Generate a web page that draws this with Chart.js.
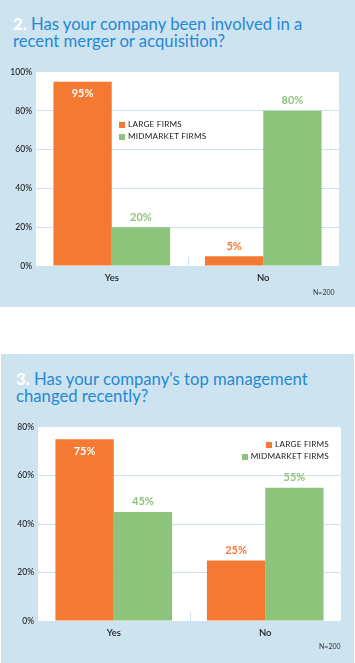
<!DOCTYPE html>
<html>
<head>
<meta charset="utf-8">
<script src="https://cdn.jsdelivr.net/npm/chart.js@4/dist/chart.umd.min.js"></script>
<style>
  html, body { margin: 0; padding: 0; background: #ffffff; }
  body { width: 355px; height: 663px; position: relative; overflow: hidden; font-family: Lato, "Open Sans", sans-serif; }
  .panel { position: absolute; background: #cee3f0; }
  .title { position: absolute; font-size: 16.7px; line-height: 17px; color: #2489d3; white-space: nowrap; }
  .title b { color: #ffffff; font-weight: 900; }
  canvas { position: absolute; }
  .legend { position: absolute; font-size: 8.2px; color: #222; letter-spacing: 0.2px; line-height: 12px; }
  .legend div { white-space: nowrap; }
  .sw { display: inline-block; width: 6px; height: 6px; margin-right: 3px; vertical-align: -0.5px; }
  .n { position: absolute; font-size: 7px; color: #333; }
</style>
</head>
<body>
<div class="panel" style="left:0;top:0;width:355px;height:307px;"></div>
<div class="panel" style="left:1px;top:354px;width:353px;height:309px;"></div>
<div class="title" style="left:13px;top:16px;"><b>2.</b> Has your company been involved in a<br>recent merger or acquisition?</div>
<div class="title" style="left:16px;top:371px;"><b>3.</b> Has your company's top management<br>changed recently?</div>
<canvas id="c1" width="355" height="240" style="left:0;top:60px;"></canvas>
<canvas id="c2" width="355" height="240" style="left:0;top:410px;"></canvas>
<div class="legend" id="lg1" style="left:119px;top:118px;"></div>
<div class="legend" id="lg2" style="right:26px;top:438px;text-align:right;"></div>
<div class="n" style="left:313px;top:288px;">N=200</div>
<div class="n" style="left:319px;top:642px;">N=200</div>
<script>
const categories = ['Yes', 'No'];
const seriesNames = ['LARGE FIRMS', 'MIDMARKET FIRMS'];
const q2Large = [95, 5];
const q2Mid = [20, 80];
const q3Large = [75, 25];
const q3Mid = [45, 55];
const q2Max = 100;
const q3Max = 80;
const tickStep = 20;

const ORANGE = '#f47a33';
const GREEN = '#8dc47b';
const GRID = '#cee3f0';

const areaBg = {
  id: 'areaBg',
  beforeDraw(chart) {
    const a = chart.chartArea, ctx = chart.ctx;
    ctx.save();
    ctx.fillStyle = '#ffffff';
    ctx.fillRect(a.left, a.top, a.right - a.left, a.bottom - a.top);
    ctx.restore();
  },
  afterDatasetsDraw(chart) {
    const ctx = chart.ctx, a = chart.chartArea, xs = chart.scales.x;
    const mid = (xs.getPixelForValue(0) + xs.getPixelForValue(1)) / 2;
    ctx.save();
    ctx.strokeStyle = GRID;
    ctx.lineWidth = 1;
    ctx.beginPath();
    ctx.moveTo(Math.round(mid) + 0.5, a.bottom);
    ctx.lineTo(Math.round(mid) + 0.5, a.bottom - 9);
    ctx.stroke();
    ctx.font = 'bold 11px Lato, "Open Sans", sans-serif';
    ctx.textAlign = 'center';
    ctx.textBaseline = 'middle';
    chart.data.datasets.forEach((ds, di) => {
      const meta = chart.getDatasetMeta(di);
      meta.data.forEach((bar, i) => {
        const v = ds.data[i];
        const txt = v + '%';
        if (di === 0 && v >= 50) {
          ctx.fillStyle = '#ffffff';
          ctx.fillText(txt, bar.x, bar.y + 12);
        } else {
          ctx.fillStyle = ds.backgroundColor;
          ctx.fillText(txt, bar.x, bar.y - 10);
        }
      });
    });
    ctx.restore();
  }
};

function makeChart(id, large, mid, max, padTop, padRight, yWidth, xHeight) {
  return new Chart(document.getElementById(id), {
    type: 'bar',
    data: {
      labels: categories,
      datasets: [
        { label: seriesNames[0], data: large, backgroundColor: ORANGE, borderWidth: 0, categoryPercentage: 0.77, barPercentage: 1.0 },
        { label: seriesNames[1], data: mid, backgroundColor: GREEN, borderWidth: 0, categoryPercentage: 0.77, barPercentage: 1.0 }
      ]
    },
    options: {
      responsive: false,
      devicePixelRatio: 1,
      animation: false,
      layout: { padding: { top: padTop, right: padRight, left: 0, bottom: 0 } },
      plugins: { legend: { display: false }, tooltip: { enabled: false } },
      scales: {
        x: {
          grid: { display: false, drawTicks: false },
          border: { display: false },
          ticks: { color: '#222', font: { family: 'Lato, "Open Sans", sans-serif', size: 9.5, weight: '600' }, padding: 6 },
          afterFit(s) { s.height = xHeight; }
        },
        y: {
          min: 0, max: max,
          grid: {
            drawTicks: false,
            color: (c) => (c.tick && (c.tick.value === 0 || c.tick.value === max)) ? 'rgba(0,0,0,0)' : GRID,
            lineWidth: 1
          },
          border: { display: false },
          ticks: {
            stepSize: tickStep,
            color: '#222',
            padding: 4,
            font: { family: 'Lato, "Open Sans", sans-serif', size: 8.5, weight: '500' },
            callback: (v) => v + '%'
          },
          afterFit(s) { s.width = yWidth; }
        }
      }
    },
    plugins: [areaBg]
  });
}

makeChart('c1', q2Large, q2Mid, q2Max, 12, 16, 36, 34);
makeChart('c2', q3Large, q3Mid, q3Max, 17, 14, 38, 29);

function buildLegend(el) {
  const colors = [ORANGE, GREEN];
  el.innerHTML = seriesNames.map((n, i) =>
    '<div><span class="sw" style="background:' + colors[i] + '"></span>' + n + '</div>').join('');
}
buildLegend(document.getElementById('lg1'));
buildLegend(document.getElementById('lg2'));
</script>
</body>
</html>
